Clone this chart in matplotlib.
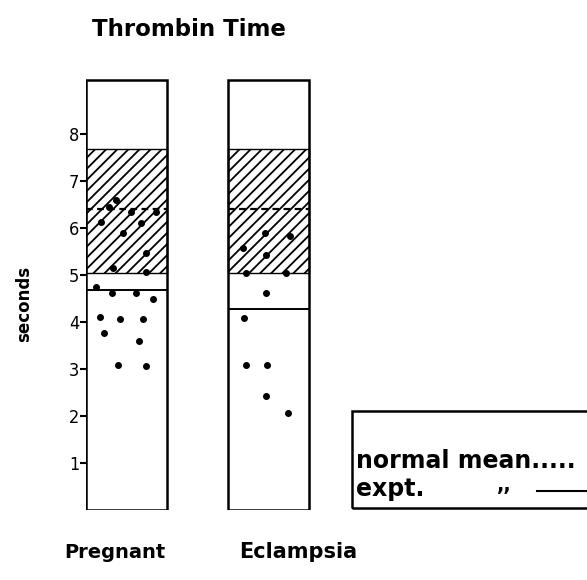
import numpy as np
import matplotlib.pyplot as plt
from matplotlib.patches import Rectangle
from matplotlib.lines import Line2D

groups = ["Pregnant", "Eclampsia"]
scale_top = 9.15
normal_low = 5.04
normal_high = 7.68
normal_mean = 6.40
expt_mean = [4.68, 4.27]

# individual thrombin times (x offset within bar, seconds)
preg_dx = [-0.213, -0.10, 0.068, 0.19, -0.185, -0.044, 0.115, -0.16, 0.085, -0.061, 0.134,
           -0.073, -0.12, 0.033, 0.10, -0.026, 0.139, -0.092, 0.134, 0.209, -0.178]
preg_t = [4.75, 4.61, 4.61, 4.49, 4.11, 4.06, 4.06, 3.76, 3.60, 3.09, 3.06,
          6.60, 6.45, 6.35, 6.10, 5.89, 5.46, 5.15, 5.06, 6.35, 6.13]
ecl_dx = [-0.028, 0.148, -0.181, -0.016, -0.157, 0.125,
          -0.016, -0.176, -0.157, -0.009, -0.016, 0.136]
ecl_t = [5.89, 5.83, 5.57, 5.43, 5.04, 5.04,
         4.61, 4.08, 3.09, 3.09, 2.43, 2.06]

plt.rcParams["hatch.linewidth"] = 1.3

W, H = 587, 580
fig = plt.figure(figsize=(W / 100, H / 100), dpi=100)

# axes: left edge at first bar, bottom at zero
ax_l, ax_b, ax_t = 86, 510, 75
ax = fig.add_axes([ax_l / W, (H - ax_b) / H, 330 / W, (ax_b - ax_t) / H])

pos = np.arange(len(groups))
spacing = 142.0
bw = 81 / spacing
ax.set_xlim(-bw / 2, -bw / 2 + 330 / spacing)
ax.set_ylim(0, scale_top * (ax_b - ax_t) / (ax_b - 80))

ax.bar(pos, scale_top, width=bw, color="white", edgecolor="black", linewidth=1.8, zorder=1)
ax.bar(pos, normal_high - normal_low, bottom=normal_low, width=bw, fill=False,
       hatch="///", edgecolor="black", linewidth=1.0, zorder=2)

for i, p in enumerate(pos):
    ax.hlines(normal_mean, p - bw / 2, p + bw / 2, colors="black",
              linestyles=(0, (3, 2)), linewidth=1.6, zorder=3)
    ax.hlines(expt_mean[i], p - bw / 2, p + bw / 2, colors="black", linewidth=1.4, zorder=3)

ax.scatter(pos[0] + np.array(preg_dx), preg_t, s=16, color="black", zorder=4)
ax.scatter(pos[1] + np.array(ecl_dx), ecl_t, s=16, color="black", zorder=4)

for s in ax.spines.values():
    s.set_visible(False)
ax.set_xticks([])
ax.set_yticks(range(1, 9))
ax.tick_params(axis="y", direction="out", length=4, width=1.5, pad=1, labelsize=13)
for lab in ax.get_yticklabels():
    lab.set_fontstretch("condensed")

fig.text(189 / W, 1 - 30 / H, "Thrombin Time", ha="center", va="center",
         fontsize=16.5, fontweight="bold")
fig.text(24 / W, 1 - 304 / H, "seconds", ha="center", va="center", rotation=90,
         fontsize=12, fontweight="bold")
fig.text(115 / W, 1 - 552 / H, groups[0], ha="center", va="center", fontsize=14, fontweight="bold")
fig.text(298 / W, 1 - 552 / H, groups[1], ha="center", va="center", fontsize=15, fontweight="bold")

# key box
fig.patches.append(Rectangle((352 / W, 1 - 508 / H), 250 / W, 97 / H, transform=fig.transFigure,
                             fill=False, edgecolor="black", linewidth=1.8))
fig.text(356 / W, 1 - 461 / H, "normal mean.....", ha="left", va="center",
         fontsize=17, fontweight="bold")
fig.text(356 / W, 1 - 489 / H, "expt.", ha="left", va="center", fontsize=17, fontweight="bold")
fig.text(497 / W, 1 - 486 / H, ",,", ha="left", va="center", fontsize=14, fontweight="bold")
fig.lines.append(Line2D([537 / W, 590 / W], [1 - 491 / H, 1 - 491 / H],
                        transform=fig.transFigure, color="black", linewidth=1.5))

fig.savefig("out.png", dpi=100)
